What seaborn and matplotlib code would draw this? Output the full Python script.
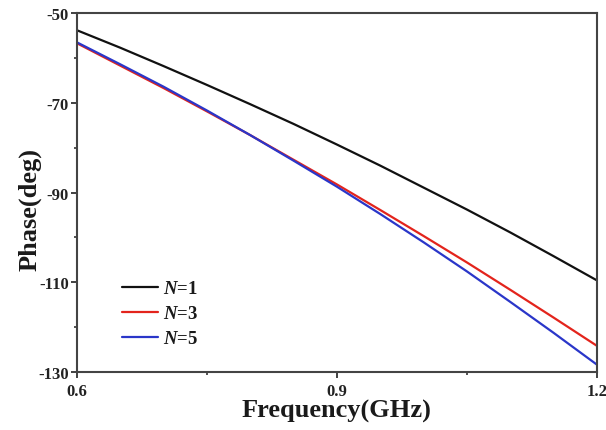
import numpy as np
import pandas as pd
import matplotlib
matplotlib.use('Agg')
import matplotlib.pyplot as plt
from matplotlib.ticker import MultipleLocator
import seaborn as sns

# Frequency points (GHz) and phase readings (deg) for each N
freq = [0.60, 0.65, 0.70, 0.75, 0.80, 0.85, 0.90, 0.95, 1.00, 1.05, 1.10, 1.15, 1.20]
phase_n1 = [-53.8, -57.7, -61.8, -66.0, -70.3, -74.7, -79.3, -84.0, -88.9, -93.8, -98.9, -104.2, -109.6]
phase_n3 = [-56.7, -61.7, -66.7, -71.9, -77.2, -82.7, -88.2, -93.9, -99.7, -105.6, -111.7, -117.9, -124.2]
phase_n5 = [-56.5, -61.4, -66.4, -71.7, -77.2, -82.9, -88.7, -94.8, -101.1, -107.6, -114.4, -121.3, -128.4]
labels = ['$\\mathit{N}$=1', '$\\mathit{N}$=3', '$\\mathit{N}$=5']
colors = ['#111111', '#e3241c', '#2a36c9']

sns.set_style('ticks')
plt.rcParams['font.family'] = ['Liberation Serif', 'DejaVu Serif']
plt.rcParams['font.weight'] = 'bold'
plt.rcParams['axes.unicode_minus'] = False
plt.rcParams['mathtext.fontset'] = 'custom'
plt.rcParams['mathtext.it'] = 'Liberation Serif:italic:bold'
plt.rcParams['mathtext.rm'] = 'Liberation Serif:bold'

df = pd.concat([
    pd.DataFrame({'Frequency': freq, 'Phase': vals, 'Series': lab})
    for vals, lab in zip([phase_n1, phase_n3, phase_n5], labels)
], ignore_index=True)

fig = plt.figure(figsize=(6.06, 4.31), dpi=100)
ax = fig.add_axes([0.127, 0.135, 0.858, 0.832])

sns.lineplot(data=df, x='Frequency', y='Phase', hue='Series', hue_order=labels,
             palette=dict(zip(labels, colors)), linewidth=1.6, ax=ax)

ax.set_xlim(0.6, 1.2)
ax.set_ylim(-130, -50)
ax.set_xticks([0.6, 0.9, 1.2])
ax.set_xticklabels(['0.6', '0.9', '1.2'])
ax.set_yticks([-130, -110, -90, -70, -50])
ax.xaxis.set_minor_locator(MultipleLocator(0.15))
ax.yaxis.set_minor_locator(MultipleLocator(10))
ax.tick_params(which='major', direction='out', length=4, width=1.3, labelsize=12, colors='#333333',
               labelcolor='#222222')
ax.tick_params(which='minor', direction='out', length=2.5, width=1.2, colors='#333333')
ax.tick_params(axis='x', pad=4)
ax.tick_params(axis='y', pad=2)

for s in ax.spines.values():
    s.set_visible(True)
    s.set_linewidth(1.5)
    s.set_color('#444444')

ax.set_xlabel('Frequency(GHz)', fontsize=19, fontweight='bold', labelpad=0, color='#1a1a1a')
ax.set_ylabel('Phase(deg)', fontsize=19, fontweight='bold', color='#1a1a1a')
ax.yaxis.set_label_coords(-0.068, 0.455)

leg = ax.legend(loc='upper left', bbox_to_anchor=(0.062, 0.292), frameon=False, fontsize=13.5,
                handlelength=1.9, handletextpad=0.25, labelspacing=0.42, borderpad=0.2)
for t in leg.get_texts():
    t.set_color('#1a1a1a')

plt.savefig('out.png', dpi=100)
